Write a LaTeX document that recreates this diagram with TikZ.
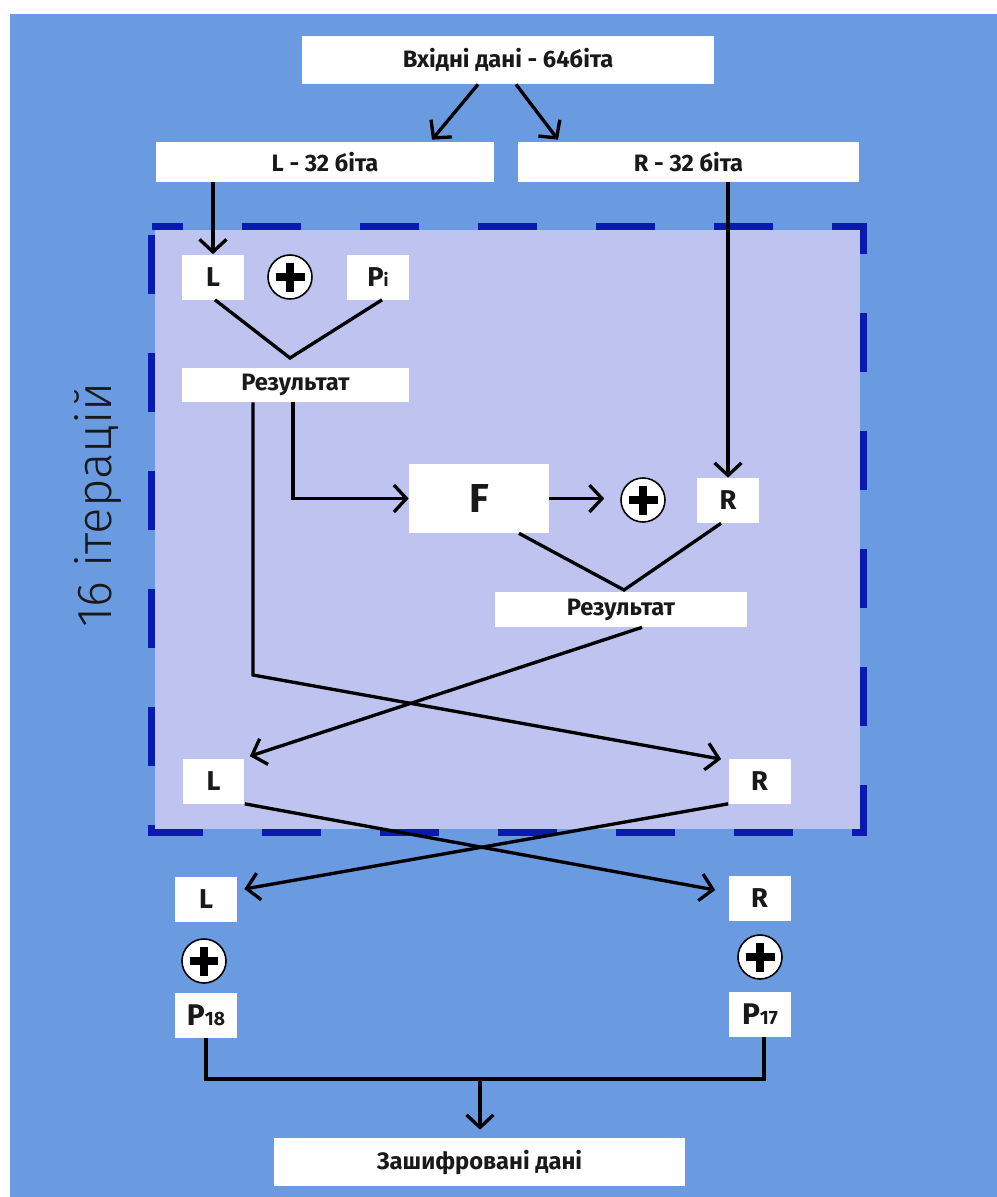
\documentclass[tikz,border=0pt]{standalone}
\usepackage{fontspec}
\setmainfont{Fira Sans}
\newfontfamily\thinfont{Fira Sans Light}
\usetikzlibrary{positioning,arrows.meta}
\definecolor{fond}{RGB}{106,154,224}
\definecolor{lavande}{RGB}{190,196,239}
\definecolor{cadre}{RGB}{8,26,176}

\tikzset{
  blok/.style={fill=white, inner sep=0pt, text=black!90,
    font=\bfseries\fontsize{13.5}{16}\selectfont},
  lettre/.style={blok, minimum width=1.24cm, minimum height=0.9cm,
    font=\bfseries\fontsize{15.5}{18}\selectfont},
  fleche/.style={line width=1.9pt, -{Straight Barb[length=2.5mm,width=5.4mm]}},
  trait/.style={line width=1.9pt},
  xor/.style={circle, draw, fill=white, line width=0.9pt, minimum size=0.88cm,
    inner sep=0pt,
    path picture={\draw[line width=0.16cm]
      ([xshift=-0.29cm]path picture bounding box.center) -- ++(0.58cm,0)
      ([yshift=-0.29cm]path picture bounding box.center) -- ++(0,0.58cm);}}
}

\begin{document}
\begin{tikzpicture}[x=0.02cm,y=-0.02cm]
  \useasboundingbox (0,0) rectangle (997,1197);
  \fill[white] (0,0) rectangle (997,1197);
  \fill[fond] (10,14) rectangle (997,1197);

  % one round of the cipher
  \fill[lavande] (155,230) rectangle (860,829);
  \draw[cadre, line width=0.14cm, dash pattern=on 1.18cm off 1.18cm, dash phase=0.54cm]
    (151.5,226.5) -- (863.5,226.5) -- (863.5,832.5) -- (151.5,832.5) -- cycle;
  \node[rotate=90, text=black!90, font=\thinfont\fontsize{28}{30}\selectfont] (iter) at (98,505) {16 ітерацій};

  \node[blok, minimum width=8.26cm, minimum height=0.96cm] (entree) at (508,60) {Вхідні дані - 64біта};
  \node[blok, minimum width=6.76cm, minimum height=0.8cm] (L32) at (325,162) {L - 32 біта};
  \node[blok, minimum width=6.82cm, minimum height=0.8cm] (R32) at (688.5,162) {R - 32 біта};

  \node[lettre] (Lin) at (213,277) {L};
  \node[xor] (xorA) at (290,277) {};
  \node[lettre] (Pi) at (378,277) {P{\fontsize{10}{10}\selectfont i}};
  \node[blok, minimum width=4.54cm, minimum height=0.68cm] (res1) at (295.5,385) {Результат};

  \node[blok, minimum width=2.8cm, minimum height=1.38cm, font=\bfseries\fontsize{23}{26}\selectfont] (F) at (479,498.5) {F};
  \node[xor] (xorB) at (643,500) {};
  \node[lettre] (Rin) at (728,500.5) {R};
  \node[blok, minimum width=5.04cm, minimum height=0.7cm] (res2) at (621,609.5) {Результат};

  \node[lettre] (Lout) at (213.5,781) {L};
  \node[lettre] (Rout) at (759.5,781) {R};

  % after the rounds
  \node[lettre] (L2) at (206,899) {L};
  \node[lettre] (R2) at (759.5,898) {R};
  \node[xor] (xorC) at (204,961) {};
  \node[xor] (xorD) at (760,957) {};
  \node[lettre, font=\bfseries\fontsize{17}{19}\selectfont] (P18) at (206,1015) {P{\fontsize{11}{11}\selectfont 18}};
  \node[lettre, font=\bfseries\fontsize{17}{19}\selectfont] (P17) at (760,1014.5) {P{\fontsize{11}{11}\selectfont 17}};
  \node[blok, minimum width=8.22cm, minimum height=0.96cm] (sortie) at (479.5,1162) {Зашифровані дані};

  \coordinate (v1) at (290,358);
  \coordinate (v2) at (624,590);
  \coordinate (k1) at (253,675);
  \coordinate (bas) at (480,1079);

  \draw[fleche] ([xshift=-0.6cm]entree.south) -- ([xshift=2.14cm,yshift=0.04cm]L32.north);
  \draw[fleche] ([xshift=0.16cm]entree.south) -- ([xshift=-2.61cm,yshift=0.04cm]R32.north);
  \draw[fleche] (L32.south -| Lin.north) -- (Lin.north);
  \draw[fleche] (R32.south -| Rin.north) -- (Rin.north);

  \draw[trait] ([xshift=0.04cm]Lin.south) -- (v1) -- ([xshift=0.08cm]Pi.south);
  \draw[fleche] ([xshift=-0.05cm]res1.south) |- (F.west);
  \draw[fleche, shorten >=0.32cm] (F.east) -- (F.east -| xorB.west);
  \draw[trait] ([xshift=0.8cm]F.south) -- (v2) -- ([xshift=-0.14cm]Rin.south);

  \draw[fleche] ([xshift=-0.85cm]res1.south) -- (k1) -- ([xshift=-0.14cm,yshift=-0.02cm]Rout.north west);
  \draw[fleche] ([xshift=0.42cm]res2.south) -- ([xshift=0.1cm,yshift=0.04cm]Lout.north east);

  \draw[fleche] (Lout.south east) -- ([xshift=-0.26cm,yshift=0.16cm]R2.west);
  \draw[fleche] (Rout.south west) -- ([xshift=0.14cm,yshift=0.2cm]L2.east);

  \draw[trait] (P18.south) |- (bas) -| ([xshift=0.08cm]P17.south);
  \draw[fleche, shorten >=0.16cm] (bas) -- (bas |- sortie.north);
\end{tikzpicture}
\end{document}
